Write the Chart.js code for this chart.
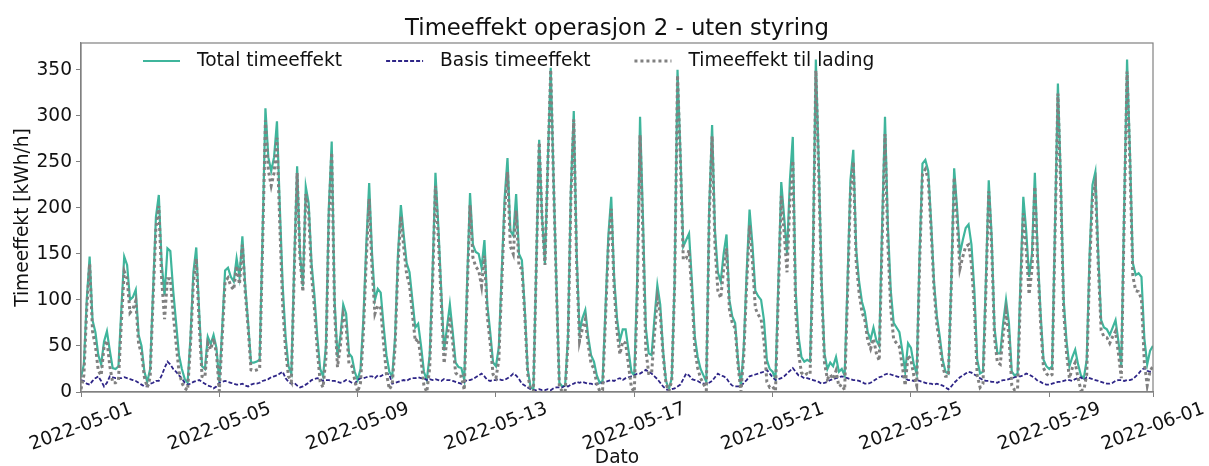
<!DOCTYPE html>
<html>
<head>
<meta charset="utf-8">
<title>Timeeffekt operasjon 2</title>
<script src="https://cdn.jsdelivr.net/npm/chart.js@4.4.1/dist/chart.umd.min.js"></script>
<style>
  html, body { margin: 0; padding: 0; background: #fff; }
  canvas { display: block; }
</style>
</head>
<body>
<canvas id="effektChart" width="1209" height="466"></canvas>
<script>
// Timeeffekt for mai 2022, en verdi annenhver time fra 2022-05-01 00:00 (kWh/h)
const timeSteg = 2;

// en rad per dag
const totalTimeeffekt = [
  16, 30, 100, 147, 78, 65, 40, 30, 55, 66, 45, 26,
  25, 28, 90, 147, 138, 100, 103, 111, 62, 50, 22, 11,
  25, 110, 190, 214, 140, 105, 156, 153, 110, 75, 40, 25,
  14, 10, 60, 130, 157, 88, 28, 25, 60, 52, 62, 48,
  11, 70, 132, 135, 125, 120, 145, 125, 169, 115, 75, 32,
  32, 33, 35, 170, 308, 255, 240, 255, 294, 200, 115, 60,
  28, 20, 140, 245, 150, 115, 223, 205, 140, 105, 60, 25,
  17, 50, 200, 272, 100, 38, 60, 95, 85, 42, 38, 22,
  13, 25, 80, 160, 227, 150, 100, 112, 108, 72, 40, 22,
  17, 60, 150, 203, 170, 140, 130, 100, 70, 74, 50, 22,
  13, 40, 130, 238, 180, 111, 45, 70, 95, 65, 32, 27,
  26, 13, 120, 216, 160, 152, 150, 135, 165, 95, 65, 32,
  28, 49, 130, 210, 254, 175, 170, 215, 150, 143, 90, 25,
  5, 3, 140, 274, 190, 140, 250, 352, 230, 115, 10, 6,
  7, 60, 220, 305, 150, 65, 80, 89, 60, 40, 33, 18,
  10, 12, 90, 170, 212, 125, 80, 56, 68, 68, 45, 22,
  18, 120, 299, 190, 70, 42, 40, 80, 116, 95, 45, 12,
  3, 15, 120, 350, 260, 158, 165, 172, 120, 60, 38, 25,
  18, 11, 200, 290, 175, 130, 120, 150, 171, 100, 82, 75,
  35, 6, 50, 130, 198, 160, 110, 104, 100, 78, 35, 25,
  22, 14, 120, 228, 190, 150, 230, 277, 110, 60, 38, 33,
  35, 33, 150, 361, 250, 120, 42, 25, 32, 28, 38, 22,
  25, 18, 120, 230, 263, 155, 120, 98, 87, 65, 57, 70,
  56, 50, 180, 299, 180, 110, 75, 70, 65, 45, 22, 53,
  48, 30, 20, 150, 248, 252, 240, 185, 120, 82, 60, 35,
  22, 20, 120, 243, 200, 150, 165, 178, 182, 160, 111, 35,
  20, 22, 120, 230, 170, 70, 42, 42, 75, 100, 75, 22,
  18, 20, 120, 212, 175, 125, 150, 238, 150, 85, 35, 28,
  25, 28, 180, 335, 230, 100, 55, 28, 38, 46, 30, 18,
  15, 35, 150, 225, 239, 150, 78, 70, 68, 62, 70, 78,
  55, 28, 200, 361, 260, 140, 127, 129, 125, 58, 30, 45,
  50
];

const basisTimeeffekt = [
  13, 12, 9, 8, 12, 15, 17, 12, 6, 10, 17, 16,
  15, 15, 15, 16, 15, 14, 13, 12, 10, 8, 6, 6,
  9, 10, 12, 12, 18, 26, 33, 30, 25, 22, 18, 15,
  10, 8, 9, 11, 12, 13, 11, 9, 7, 6, 4, 6,
  10, 11, 12, 11, 10, 9, 8, 8, 9, 7, 6, 8,
  9, 9, 10, 12, 13, 14, 16, 17, 18, 20, 22, 15,
  11, 9, 10, 7, 5, 6, 8, 10, 13, 14, 15, 14,
  12, 13, 13, 12, 12, 11, 10, 11, 13, 12, 10, 9,
  13, 15, 15, 16, 17, 17, 15, 18, 17, 19, 20, 19,
  9, 10, 11, 12, 13, 12, 14, 15, 15, 16, 15, 15,
  13, 14, 13, 14, 13, 12, 14, 13, 13, 12, 11, 10,
  9, 11, 13, 13, 14, 16, 18, 20, 17, 13, 12, 13,
  13, 14, 13, 13, 15, 17, 20, 18, 14, 9, 7, 5,
  3, 2, 2, 3, 2, 2, 3, 2, 4, 5, 5, 5,
  7, 6, 8, 9, 11, 10, 11, 10, 9, 9, 8, 9,
  9, 10, 11, 12, 13, 12, 14, 15, 13, 15, 16, 17,
  18, 20, 20, 22, 24, 22, 20, 17, 14, 10, 6, 3,
  2, 3, 4, 6, 8, 14, 20, 18, 14, 13, 12, 10,
  9, 9, 10, 12, 16, 20, 18, 17, 15, 10, 7, 6,
  6, 6, 10, 13, 17, 18, 19, 20, 21, 22, 24, 20,
  16, 13, 14, 15, 17, 20, 23, 26, 22, 18, 17, 15,
  15, 14, 13, 12, 11, 9, 10, 11, 13, 14, 15, 16,
  17, 16, 15, 14, 13, 13, 12, 11, 9, 9, 10, 12,
  14, 16, 17, 19, 20, 19, 18, 17, 16, 17, 15, 13,
  13, 12, 13, 12, 11, 10, 9, 9, 8, 9, 8, 7,
  5, 3, 6, 10, 13, 16, 18, 20, 22, 21, 19, 17,
  15, 13, 12, 12, 11, 11, 10, 12, 13, 13, 14, 15,
  16, 17, 17, 18, 20, 19, 17, 15, 12, 11, 9, 8,
  8, 9, 10, 11, 11, 12, 13, 13, 12, 14, 15, 16,
  13, 16, 15, 14, 13, 12, 11, 10, 9, 9, 10, 12,
  13, 13, 12, 13, 13, 14, 17, 20, 24, 26, 23, 22,
  22
];

const ladingTimeeffekt = [
  3, 18, 91, 139, 66, 50, 23, 18, 49, 56, 28, 10,
  10, 13, 75, 131, 123, 86, 90, 99, 52, 42, 16, 5,
  16, 100, 178, 202, 122, 79, 123, 123, 85, 53, 22, 10,
  4, 2, 51, 119, 145, 75, 17, 16, 53, 46, 58, 42,
  1, 59, 120, 124, 115, 111, 137, 117, 160, 108, 69, 24,
  23, 24, 25, 158, 295, 241, 224, 238, 276, 180, 93, 45,
  17, 11, 130, 238, 145, 109, 215, 195, 127, 91, 45, 11,
  5, 37, 187, 260, 88, 27, 50, 84, 72, 30, 28, 13,
  0, 10, 65, 144, 210, 133, 85, 94, 91, 53, 20, 3,
  8, 50, 139, 191, 157, 128, 116, 85, 55, 58, 35, 7,
  0, 26, 117, 224, 167, 99, 31, 57, 82, 53, 21, 17,
  17, 2, 107, 203, 146, 136, 132, 115, 148, 82, 53, 19,
  15, 35, 117, 197, 239, 158, 150, 197, 136, 134, 83, 20,
  2, 1, 138, 271, 188, 138, 247, 350, 226, 110, 5, 1,
  0, 54, 212, 296, 139, 55, 69, 79, 51, 31, 25, 9,
  1, 2, 79, 158, 199, 113, 66, 41, 55, 53, 29, 5,
  0, 100, 279, 168, 46, 20, 20, 63, 102, 85, 39, 9,
  1, 12, 116, 344, 252, 144, 145, 154, 106, 47, 26, 15,
  9, 2, 190, 278, 159, 110, 102, 133, 156, 90, 75, 69,
  29, 0, 40, 117, 181, 142, 91, 84, 79, 56, 11, 5,
  6, 1, 106, 213, 173, 130, 207, 251, 88, 42, 21, 18,
  20, 19, 137, 349, 239, 111, 32, 14, 19, 14, 23, 6,
  8, 2, 105, 216, 250, 142, 108, 87, 78, 56, 47, 58,
  42, 34, 163, 280, 160, 91, 57, 53, 49, 28, 7, 40,
  35, 18, 7, 138, 237, 242, 231, 176, 112, 73, 52, 28,
  17, 17, 114, 233, 187, 134, 147, 158, 160, 139, 92, 18,
  5, 9, 108, 218, 159, 59, 32, 30, 62, 87, 61, 7,
  2, 3, 103, 194, 155, 106, 133, 223, 138, 74, 26, 20,
  17, 19, 170, 324, 219, 88, 42, 15, 26, 32, 15, 2,
  2, 19, 135, 211, 226, 138, 67, 60, 59, 53, 60, 66,
  42, 15, 188, 348, 247, 126, 110, 109, 101, 32, 7, 23,
  28
];

// datoetiketter på x-aksen (dager etter 1. mai)
const tickDager = [0, 4, 8, 12, 16, 20, 24, 28, 31];
const tickEtiketter = ['2022-05-01', '2022-05-05', '2022-05-09', '2022-05-13',
  '2022-05-17', '2022-05-21', '2022-05-25', '2022-05-29', '2022-06-01'];

const FONT = 'DejaVu Sans';
const TEKST = 18.6;
Chart.defaults.font.family = FONT;
Chart.defaults.color = '#111';

function punkter(verdier) {
  return verdier.map((v, i) => ({ x: i * timeSteg / 24, y: v }));
}

// ramme rundt plottet, roterte datoer og legende inne i plottet
const tegnPlugin = {
  id: 'tegn',
  afterDraw(chart) {
    const { ctx, chartArea: a, scales: { x } } = chart;
    ctx.save();
    ctx.strokeStyle = '#808080';
    ctx.lineWidth = 1.2;
    ctx.strokeRect(a.left, a.top, a.right - a.left, a.bottom - a.top);

    ctx.fillStyle = '#111';
    ctx.font = TEKST + 'px "' + FONT + '"';
    ctx.textBaseline = 'middle';
    ctx.textAlign = 'center';
    x.ticks.forEach((t, i) => {
      ctx.save();
      ctx.translate(x.getPixelForValue(t.value), a.bottom + 35);
      ctx.rotate(-20 * Math.PI / 180);
      ctx.fillText(tickEtiketter[i], 0, 0);
      ctx.restore();
    });

    let lx = a.left + 62;
    const ly = a.top + 18;
    ctx.textAlign = 'left';
    chart.data.datasets.forEach(ds => {
      ctx.strokeStyle = ds.borderColor;
      ctx.lineWidth = ds.borderWidth;
      ctx.setLineDash(ds.borderDash || []);
      ctx.beginPath();
      ctx.moveTo(lx, ly);
      ctx.lineTo(lx + 37, ly);
      ctx.stroke();
      ctx.setLineDash([]);
      ctx.fillText(ds.label, lx + 54, ly);
      lx += 54 + ctx.measureText(ds.label).width + 44;
    });
    ctx.restore();
  }
};

new Chart(document.getElementById('effektChart'), {
  type: 'line',
  data: {
    datasets: [
      {
        label: 'Total timeeffekt',
        data: punkter(totalTimeeffekt),
        borderColor: '#3fb59c',
        borderWidth: 2.2,
        order: 3
      },
      {
        label: 'Basis timeeffekt',
        data: punkter(basisTimeeffekt),
        borderColor: '#2e2587',
        borderWidth: 1.8,
        borderDash: [4, 2],
        order: 2
      },
      {
        label: 'Timeeffekt til lading',
        data: punkter(ladingTimeeffekt),
        borderColor: '#808080',
        borderWidth: 3,
        borderDash: [3, 3],
        order: 1
      }
    ]
  },
  options: {
    responsive: false,
    animation: false,
    devicePixelRatio: 1,
    elements: {
      point: { radius: 0 },
      line: { tension: 0, fill: false, borderCapStyle: 'butt' }
    },
    layout: { padding: { left: 0, right: 56, top: 0, bottom: 0 } },
    plugins: {
      legend: { display: false },
      tooltip: { enabled: false },
      title: {
        display: true,
        text: 'Timeeffekt operasjon 2 - uten styring',
        fullSize: false,
        color: '#111',
        font: { size: 22.8, weight: 'normal', lineHeight: 1 },
        padding: { top: 18, bottom: 2.2 }
      }
    },
    scales: {
      x: {
        type: 'linear',
        min: 0,
        max: 31,
        afterBuildTicks: s => { s.ticks = tickDager.map(v => ({ value: v })); },
        afterFit: s => { s.height = 74; },
        ticks: { display: false },
        grid: { display: true, drawOnChartArea: false, drawTicks: true, tickLength: 5, color: '#808080' },
        border: { display: true, color: '#808080', width: 1.2 },
        title: {
          display: true,
          text: 'Dato',
          font: { size: TEKST, lineHeight: 0.8 },
          padding: 0
        }
      },
      y: {
        min: 0,
        max: 379,
        afterFit: s => { s.width = 81; },
        ticks: { stepSize: 50, includeBounds: false, padding: 4, font: { size: TEKST } },
        grid: { display: true, drawOnChartArea: false, drawTicks: true, tickLength: 5, color: '#808080' },
        border: { display: true, color: '#808080', width: 1.2 },
        title: {
          display: true,
          text: 'Timeeffekt [kWh/h]',
          font: { size: TEKST, lineHeight: 1 },
          padding: { top: 14, bottom: 0 }
        }
      }
    }
  },
  plugins: [tegnPlugin]
});
</script>
</body>
</html>
